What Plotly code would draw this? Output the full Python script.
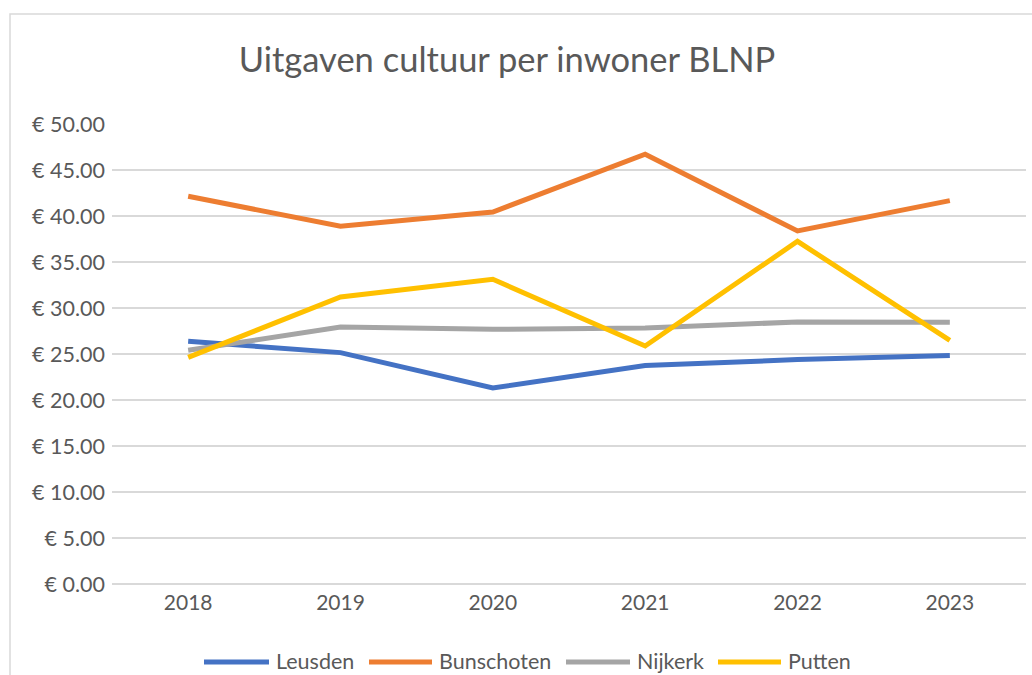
import plotly.graph_objects as go

years = ["2018", "2019", "2020", "2021", "2022", "2023"]
leusden = [26.38, 25.15, 21.30, 23.74, 24.39, 24.83]
bunschoten = [42.14, 38.88, 40.43, 46.71, 38.37, 41.67]
nijkerk = [25.40, 27.93, 27.68, 27.83, 28.48, 28.45]
putten = [24.64, 31.20, 33.12, 25.87, 37.25, 26.49]

series_names = ["Leusden", "Bunschoten", "Nijkerk", "Putten"]
series_values = [leusden, bunschoten, nijkerk, putten]
series_colors = ["#4472C4", "#ED7D31", "#A5A5A5", "#FFC000"]

FONT = "Lato, Carlito, 'Liberation Sans', sans-serif"

fig = go.Figure()
for name, vals, col in zip(series_names, series_values, series_colors):
    fig.add_trace(go.Scatter(
        x=years, y=vals, name=name, mode="lines",
        line=dict(color=col, width=5),
    ))

W, H = 1032, 675
L, R, T, B = 112, 6, 124, 91
pw = W - L - R
ph = H - T - B


def px_x(p):
    return (p - L) / pw


def px_y(p):
    return (H - B - p) / ph


fig.update_layout(
    width=W, height=H,
    margin=dict(l=L, r=R, t=T, b=B),
    paper_bgcolor="white", plot_bgcolor="white",
    font=dict(family=FONT, color="#595959", size=21),
    title=dict(text="Uitgaven cultuur per inwoner BLNP",
               x=507 / W, xref="container", xanchor="center",
               y=1 - 60 / H, yref="container", yanchor="middle",
               font=dict(size=34.5, color="#595959", family=FONT)),
    xaxis=dict(range=[-0.5, 5.5], showgrid=False, showline=False,
               zeroline=False, ticks="", tickfont=dict(size=21),
               ticklabelstandoff=4),
    yaxis=dict(range=[0, 50], dtick=5, tickprefix="€ ", tickformat=".2f",
               showgrid=True, gridcolor="#d9d9d9", gridwidth=1.5,
               zeroline=True, zerolinecolor="#d9d9d9", zerolinewidth=1.5,
               showline=False, ticks="", tickfont=dict(size=21.5),
               ticklabelstandoff=6),
    showlegend=False,
)

# chart outer border (Excel chart area)
fig.add_shape(type="rect", xref="paper", yref="paper",
              x0=px_x(10), x1=px_x(W + 20),
              y0=px_y(H + 20), y1=px_y(14),
              line=dict(color="#d9d9d9", width=1.5), fillcolor="rgba(0,0,0,0)",
              layer="below")

# legend (Excel style, long line samples)
legend_line_px = [(204, 269), (369, 432), (566, 630), (718, 781)]
legend_text_px = [275, 438, 636, 787]
ly = 662
for (x0, x1), tx, name, col in zip(legend_line_px, legend_text_px,
                                   series_names, series_colors):
    fig.add_shape(type="line", xref="paper", yref="paper",
                  x0=px_x(x0), x1=px_x(x1), y0=px_y(ly), y1=px_y(ly),
                  line=dict(color=col, width=5))
    fig.add_annotation(xref="paper", yref="paper", x=px_x(tx - 1), y=px_y(ly - 1),
                       text=name, showarrow=False, xanchor="left",
                       yanchor="middle", font=dict(size=21.5, color="#595959"))

fig.write_html("out.html",
               config={"displayModeBar": False},
               post_script="document.body.style.margin='0';document.body.style.overflow='hidden';")
